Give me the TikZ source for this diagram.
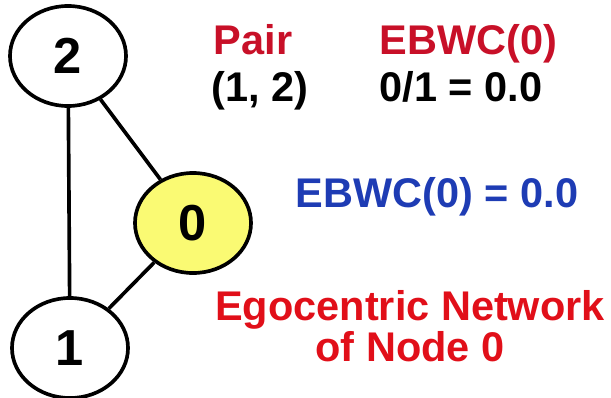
\documentclass[tikz,border=0pt]{standalone}
\usepackage{fontspec}
\setmainfont{Liberation Sans}
\usetikzlibrary{shapes.geometric,positioning}
\definecolor{pairred}{RGB}{200,16,40}
\definecolor{egored}{RGB}{225,15,25}
\definecolor{ebwcblue}{RGB}{30,60,180}
\definecolor{egoyellow}{RGB}{250,250,115}

\begin{document}
\begin{tikzpicture}[x=0.025cm, y=0.025cm, line width=2.6pt,
    vertex/.style={ellipse, draw, minimum width=2.9cm, minimum height=2.5cm,
      inner sep=0pt, font=\fontsize{36}{36}\selectfont\bfseries},
    txt/.style={inner sep=0pt, font=\fontsize{29.5}{29}\selectfont\bfseries}]
  \useasboundingbox (0,0) rectangle (611,397);
  \node[vertex] (n2) at (68,341) {2}; \node[vertex, fill=egoyellow] (n0)
  at (193,174) {0}; \node[vertex] (n1) at (70,49) {1}; \draw (n2) --
  (n1); \draw (n2) -- (n0); \draw (n1) -- (n0);
  % pair table
  \node[txt, pairred, anchor=base west] (pair) at (212,343) {Pair};
  \node[txt, anchor=base west] (pairval) at (210,296) {(1, 2)};
  \node[txt, pairred, anchor=base west] (ebwchead) at (378,343)
  {EBWC(0)}; \node[txt, anchor=base west] (ebwcval) at (378,296)
  {0/1 = 0.0};
  \node[txt, ebwcblue, anchor=base] (ebwc) at (437,190) {EBWC(0) = 0.0};
  \node[txt, egored, align=center, anchor=base] (ego) at (410,36)
  {Egocentric Network\\of Node 0};
\end{tikzpicture}
\end{document}
